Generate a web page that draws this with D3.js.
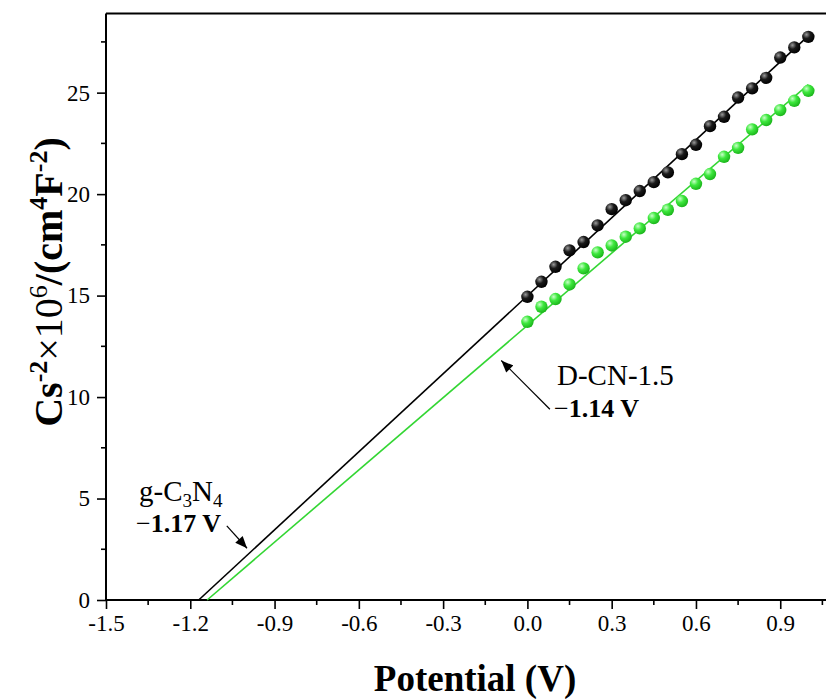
<!DOCTYPE html>
<html>
<head>
<meta charset="utf-8">
<script src="https://cdn.jsdelivr.net/npm/d3@7"></script>
<style>
  body { margin: 0; background: #fff; }
  svg { display: block; }
  text { font-family: "Liberation Serif", "Times New Roman", serif; fill: #000; }
</style>
</head>
<body>
<svg id="chart" width="826" height="699"></svg>
<script>
// Mott–Schottky data: Cs^-2 (×10^6 cm^4 F^-2) against potential (V)
const potential = [0.00, 0.05, 0.10, 0.15, 0.20, 0.25, 0.30, 0.35, 0.40, 0.45, 0.50,
                   0.55, 0.60, 0.65, 0.70, 0.75, 0.80, 0.85, 0.90, 0.95, 1.00];
const gcnValues = [14.94, 15.68, 16.42, 17.23, 17.64, 18.46, 19.26, 19.70, 20.15, 20.59, 21.07,
                   21.97, 22.43, 23.35, 23.81, 24.76, 25.21, 25.73, 26.73, 27.23, 27.75];
const dcnValues = [13.71, 14.45, 14.83, 15.55, 16.34, 17.13, 17.47, 17.90, 18.31, 18.82, 19.23,
                   19.66, 20.51, 20.99, 21.84, 22.28, 23.19, 23.65, 24.14, 24.60, 25.09];

// Linear fits extrapolated to the flat-band potential (x-intercept)
const gcnFit = [[-1.17, 0], [1.00, 27.8]];
const dcnFit = [[-1.14, 0], [1.00, 25.4]];

const xTicks = [-1.5, -1.2, -0.9, -0.6, -0.3, 0.0, 0.3, 0.6, 0.9];
const xMinor = [-1.35, -1.05, -0.75, -0.45, -0.15, 0.15, 0.45, 0.75, 1.05];
const yTicks = [0, 5, 10, 15, 20, 25];
const yMinor = [2.5, 7.5, 12.5, 17.5, 22.5, 27.5];

const svg = d3.select("#chart");
const plotLeft = 106, plotRight = 828, plotTop = 13.5, plotBottom = 600;

const x = d3.scaleLinear().domain([-1.5, 1.07]).range([plotLeft, plotRight]);
const y = d3.scaleLinear().domain([0, 28.9]).range([plotBottom, plotTop]);

// gradients that give the markers a glossy sphere look
const defs = svg.append("defs");
function sphere(id, hi, mid, edge) {
  const g = defs.append("radialGradient").attr("id", id)
    .attr("cx", "35%").attr("cy", "32%").attr("r", "70%");
  g.append("stop").attr("offset", "0%").attr("stop-color", hi);
  g.append("stop").attr("offset", "45%").attr("stop-color", mid);
  g.append("stop").attr("offset", "100%").attr("stop-color", edge);
}
sphere("ballBlack", "#9a9a9a", "#1a1a1a", "#000");
sphere("ballGreen", "#c8ffc8", "#3ee83e", "#1bb51b");

defs.append("marker").attr("id", "arrow")
  .attr("viewBox", "0 0 12 10").attr("refX", 12).attr("refY", 5)
  .attr("markerUnits", "userSpaceOnUse")
  .attr("markerWidth", 13).attr("markerHeight", 10).attr("orient", "auto")
  .append("path").attr("d", "M0,0 L12,5 L0,10 Z").attr("fill", "#000");

// plot frame
svg.append("line").attr("x1", plotLeft).attr("x2", plotRight).attr("y1", plotTop).attr("y2", plotTop)
  .attr("stroke", "#000").attr("stroke-width", 2);
svg.append("line").attr("x1", plotRight).attr("x2", plotRight).attr("y1", plotTop).attr("y2", plotBottom)
  .attr("stroke", "#000").attr("stroke-width", 2);

// axes
const fmt = d => d.toFixed(1);
const xAxis = svg.append("g").attr("transform", `translate(0,${plotBottom})`)
  .call(d3.axisBottom(x).tickValues(xTicks).tickFormat(fmt).tickSize(9).tickSizeOuter(0).tickPadding(6));
const yAxis = svg.append("g").attr("transform", `translate(${plotLeft},0)`)
  .call(d3.axisLeft(y).tickValues(yTicks).tickSize(9).tickSizeOuter(0).tickPadding(7));

[xAxis, yAxis].forEach(a => {
  a.select(".domain").attr("stroke-width", 2);
  a.selectAll(".tick line").attr("stroke-width", 1.6);
  a.selectAll(".tick text").style("font-size", "23px")
    .style("font-family", "'Liberation Serif', serif").attr("fill", "#000");
});
xAxis.select(".domain").attr("d", `M${plotLeft},0H${plotRight}`);
yAxis.select(".domain").attr("d", `M0,${plotTop}V${plotBottom}`);

// minor ticks
svg.append("g").selectAll("line").data(xMinor).join("line")
  .attr("x1", d => x(d)).attr("x2", d => x(d))
  .attr("y1", plotBottom).attr("y2", plotBottom + 5)
  .attr("stroke", "#000").attr("stroke-width", 1.6);
svg.append("g").selectAll("line").data(yMinor).join("line")
  .attr("x1", plotLeft - 5).attr("x2", plotLeft)
  .attr("y1", d => y(d)).attr("y2", d => y(d))
  .attr("stroke", "#000").attr("stroke-width", 1.6);

// fitted lines
const line = d3.line().x(d => x(d[0])).y(d => y(d[1]));
svg.append("path").datum(gcnFit).attr("d", line)
  .attr("fill", "none").attr("stroke", "#000").attr("stroke-width", 1.6);
svg.append("path").datum(dcnFit).attr("d", line)
  .attr("fill", "none").attr("stroke", "#33d633").attr("stroke-width", 1.6);

// measured points
const pts = (vals, fill) => svg.append("g").selectAll("circle")
  .data(potential.map((p, i) => [p, vals[i]])).join("circle")
  .attr("cx", d => x(d[0])).attr("cy", d => y(d[1])).attr("r", 6.2)
  .attr("fill", fill);
pts(dcnValues, "url(#ballGreen)");
pts(gcnValues, "url(#ballBlack)");

// annotations: sample names and flat-band potentials
function label(px, py, parts, size, weight) {
  const t = svg.append("text").attr("x", px).attr("y", py)
    .style("font-size", size + "px").style("font-weight", weight || "normal");
  parts.forEach(p => {
    const s = t.append("tspan").text(p.t);
    if (p.sub) s.style("font-size", (size * 0.66) + "px").attr("dy", p.dy);
    else if (p.dy) s.attr("dy", p.dy);
    if (p.w) s.style("font-weight", p.w);
  });
  return t;
}
label(139, 501, [
  { t: "g-C" }, { t: "3", sub: true, dy: 6 }, { t: "N", dy: -6 }, { t: "4", sub: true, dy: 6 }
], 29);
label(136, 532, [{ t: "\u2212", w: "normal" }, { t: "1.17 V", w: "bold" }], 26);
label(557, 385, [{ t: "D-CN-1.5" }], 29);
label(554, 417, [{ t: "\u2212", w: "normal" }, { t: "1.14 V", w: "bold" }], 26);

// arrows from the voltage labels to the fitted lines (tail and tip in data units)
const arrows = [
  [[-1.07, 3.65], [-0.998, 2.55]],
  [[0.08, 9.4], [-0.093, 11.8]]
];
svg.append("g").selectAll("line").data(arrows).join("line")
  .attr("x1", d => x(d[0][0])).attr("y1", d => y(d[0][1]))
  .attr("x2", d => x(d[1][0])).attr("y2", d => y(d[1][1]))
  .attr("stroke", "#000").attr("stroke-width", 1.2)
  .attr("marker-end", "url(#arrow)");

// axis titles
svg.append("text").attr("x", 475).attr("y", 691).attr("text-anchor", "middle")
  .style("font-size", "37px").style("font-weight", "bold").text("Potential (V)");

const yt = svg.append("text").attr("transform", "translate(62,282) rotate(-90)")
  .attr("text-anchor", "middle").style("font-size", "40px").style("font-weight", "bold");
yt.append("tspan").text("Cs");
yt.append("tspan").text("-2").attr("dy", -15).style("font-size", "26px");
yt.append("tspan").text("\u00d710").attr("dy", 15).style("font-weight", "normal");
yt.append("tspan").text("6").attr("dy", -15).style("font-size", "26px").style("font-weight", "normal");
yt.append("tspan").text("/(cm").attr("dy", 15);
yt.append("tspan").text("4").attr("dy", -15).style("font-size", "26px");
yt.append("tspan").text("F").attr("dy", 15);
yt.append("tspan").text("-2").attr("dy", -15).style("font-size", "26px");
yt.append("tspan").text(")").attr("dy", 15);
</script>
</body>
</html>
